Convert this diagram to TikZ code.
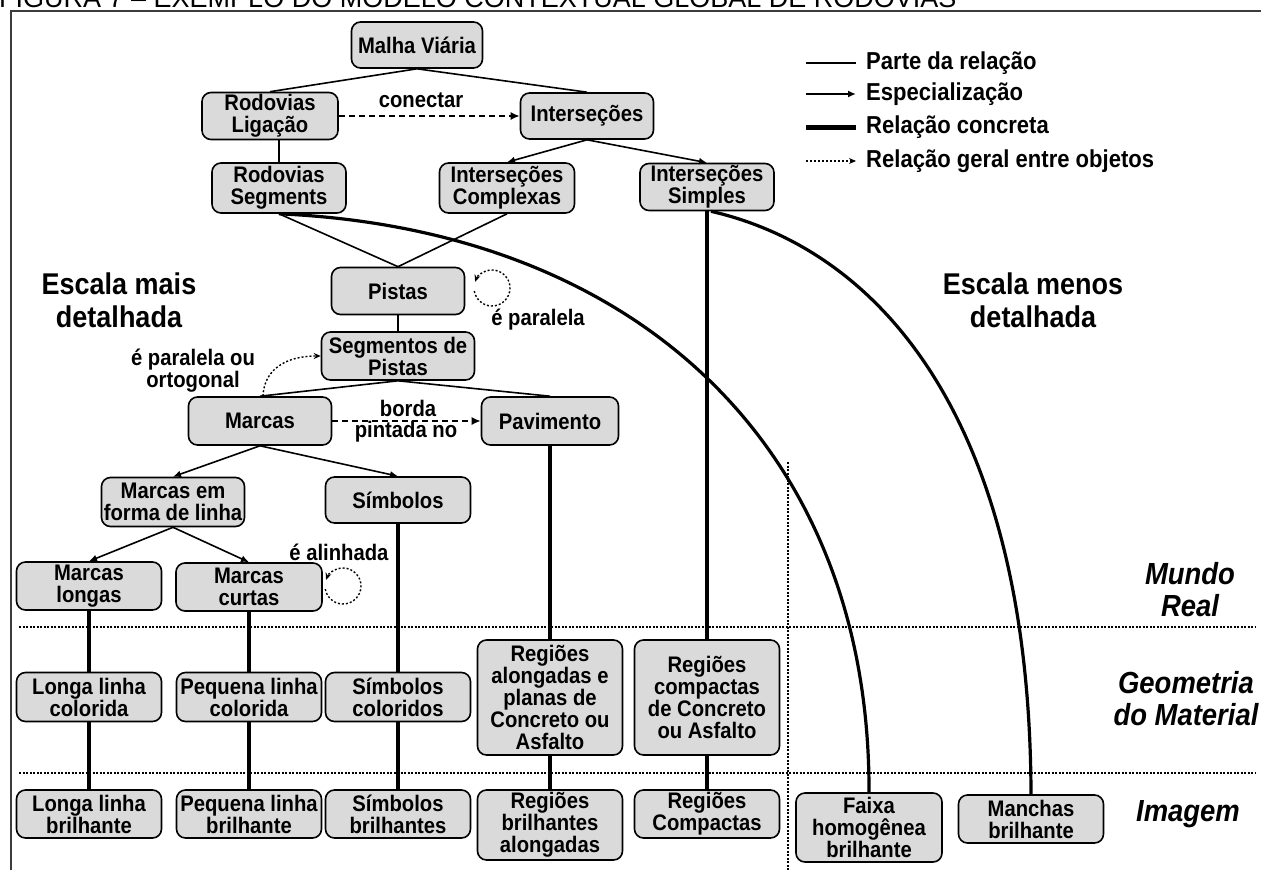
\documentclass[tikz,border=0pt]{standalone}
\usepackage{fontspec}
\setmainfont{Liberation Sans}
\newfontfamily\narrowsans{Liberation Sans}[FakeStretch=0.9]
\usetikzlibrary{arrows.meta}
\definecolor{boxfill}{RGB}{218,218,218}
\definecolor{framegray}{RGB}{60,60,60}
\newcommand\nodefnt{\narrowsans\bfseries\fontsize{22.5}{22}\selectfont}
\newcommand\keyfnt{\narrowsans\bfseries\fontsize{24.5}{24}\selectfont}
\newcommand\bigfnt{\narrowsans\bfseries\fontsize{30}{33}\selectfont}
\newcommand\levelfnt{\narrowsans\bfseries\itshape\fontsize{30.5}{32}\selectfont}

\begin{document}
\begin{tikzpicture}[x=1pt,y=-1pt,
  box/.style={draw=black, line width=1.6pt, rounded corners=9pt, fill=boxfill,
    align=center, inner sep=0pt, font=\nodefnt},
  lbl/.style={inner sep=0pt, align=center, font=\nodefnt},
  part/.style={line width=1.6pt},
  spec/.style={line width=1.6pt, -{Latex[length=8pt,width=7pt]}},
  concrete/.style={line width=4.5pt},
  curve/.style={line width=3.2pt},
  general/.style={line width=1.4pt, dash pattern=on 2pt off 2pt,
    -{Stealth[length=7pt,width=6pt]}},
  link/.style={line width=1.6pt, dash pattern=on 6pt off 4pt,
    -{Latex[length=9pt,width=8pt]}},
  sep/.style={line width=1.3pt, dash pattern=on 2pt off 1.5pt}]

\useasboundingbox (0,0) rectangle (1261,870);
\fill[white] (0,0) rectangle (1261,870);

% caption (its upper half lies above the page) and frame
\node[anchor=base west, inner sep=0pt, font=\fontsize{27}{27}\selectfont] (title) at (-1,7)
  {FIGURA 7 – EXEMPLO DO MODELO CONTEXTUAL GLOBAL DE RODOVIAS};
\draw[line width=2pt, framegray] (11,870) -- (11,11) -- (1261,11);

% level separators
\draw[sep] (19,627) -- (1256,627);
\draw[sep] (19,773) -- (1256,773);
\draw[sep] (788,462) -- (788,870);

% concepts
\node[box, minimum width=131, minimum height=46] (mv) at (417,45) {Malha Viária};
\node[box, minimum width=136, minimum height=47] (lig) at (270,116) {Rodovias\\Ligação};
\node[box, minimum width=133, minimum height=46] (int) at (587,116) {Interseções};
\node[box, minimum width=134, minimum height=50] (seg) at (279,188) {Rodovias\\Segments};
\node[box, minimum width=135, minimum height=50] (comp) at (507,188) {Interseções\\Complexas};
\node[box, minimum width=134, minimum height=47] (simp) at (707,187) {Interseções\\Simples};
\node[box, minimum width=133, minimum height=47] (pis) at (398,291) {Pistas};
\node[box, minimum width=153, minimum height=48] (segp) at (398,356) {Segmentos de\\Pistas};
\node[box, minimum width=143, minimum height=48] (mar) at (260,421) {Marcas};
\node[box, minimum width=137, minimum height=48] (pav) at (550,421) {Pavimento};
\node[box, minimum width=143, minimum height=49] (mfl) at (173,502) {Marcas em\\forma de linha};
\node[box, minimum width=145, minimum height=46] (sim) at (398,500) {Símbolos};
\node[box, minimum width=145, minimum height=48] (mlo) at (89,586) {Marcas\\longas};
\node[box, minimum width=146, minimum height=48] (mcu) at (249,587) {Marcas\\curtas};

\node[box, minimum width=145, minimum height=49] (llc) at (89,697) {Longa linha\\colorida};
\node[box, minimum width=145, minimum height=49] (plc) at (249,697) {Pequena linha\\colorida};
\node[box, minimum width=145, minimum height=49] (sco) at (398,697) {Símbolos\\coloridos};
\node[box, minimum width=145, minimum height=115] (ral) at (550,697.5)
  {Regiões\\alongadas e\\planas de\\Concreto ou\\Asfalto};
\node[box, minimum width=145, minimum height=115] (rco) at (707,697.5)
  {Regiões\\compactas\\de Concreto\\ou Asfalto};

\node[box, minimum width=145, minimum height=48] (llb) at (89,814) {Longa linha\\brilhante};
\node[box, minimum width=145, minimum height=48] (plb) at (249,814) {Pequena linha\\brilhante};
\node[box, minimum width=145, minimum height=48] (sbr) at (398,814) {Símbolos\\brilhantes};
\node[box, minimum width=145, minimum height=70] (rba) at (550,825) {Regiões\\brilhantes\\alongadas};
\node[box, minimum width=145, minimum height=48] (rcb) at (707,814) {Regiões\\Compactas};
\node[box, minimum width=146, minimum height=69] (fhb) at (869,827.5) {Faixa\\homogênea\\brilhante};
\node[box, minimum width=145, minimum height=48] (mbr) at (1031,819) {Manchas\\brilhante};

% part-of relations
\draw[part] (mv.south) -- (lig.north);
\draw[part] (mv.south) -- (int.north);
\draw[part] (lig.south -| seg.north) -- (seg.north);
\draw[part] (seg.south) -- (pis.north);
\draw[part] (comp.south) -- (pis.north);
\draw[part] (pis.south) -- (segp.north);
\draw[part] (segp.south) -- (mar.north);
\draw[part] (segp.south) -- (pav.north);

% specialisations
\draw[spec] (int.south) -- (comp.north);
\draw[spec] (int.south) -- (simp.north);
\draw[spec] (mar.south) -- (mfl.north);
\draw[spec] (mar.south) -- (sim.north);
\draw[spec] (mfl.south) -- (mlo.north);
\draw[spec] (mfl.south) -- (mcu.north);

% general relations between objects
\draw[link] (lig.east) -- (int.west);
\node[lbl] (conectar) at (421,100) {conectar};
\draw[link] (mar.east) -- (pav.west);
\node[lbl] (borda) at (408,408) {borda};
\node[lbl] (pintada) at (406,432) {pintada no};

\coordinate (pisloop) at (492,288);
\draw[general] ([shift={(170:18)}]pisloop) arc[start angle=170, end angle=-160, radius=18];
\node[lbl] (paralela) at (538,320) {é paralela};

\coordinate (mculoop) at (343,586);
\draw[general] ([shift={(170:18)}]mculoop) arc[start angle=170, end angle=-160, radius=18];
\node[lbl] (alinhada) at (339,552) {é alinhada};

\draw[general] ([xshift=3]mar.north) .. controls (264,370) and (285,356) .. (segp.west);
\node[lbl] (ortog) at (193,371) {é paralela ou\\ortogonal};

% concrete relations
\draw[concrete] (mlo.south) -- (llc.north) (llc.south) -- (llb.north);
\draw[concrete] (mcu.south) -- (plc.north) (plc.south) -- (plb.north);
\draw[concrete] (sim.south) -- (sco.north) (sco.south) -- (sbr.north);
\draw[concrete] (pav.south) -- (ral.north) (ral.south) -- (rba.north);
\draw[line width=3.5pt] (simp.south) -- (rco.north) (rco.south) -- (rcb.north);
\draw[curve] (seg.south) .. controls (640,230) and (870,450) .. (fhb.north);
\draw[curve] ([xshift=4]simp.south) .. controls (880,250) and (1030,420) .. (mbr.north);

% scale and level captions
\node[lbl, font=\bigfnt] (mais) at (119,300) {Escala mais\\detalhada};
\node[lbl, font=\bigfnt] (menos) at (1033,300) {Escala menos\\detalhada};
\node[lbl, font=\levelfnt] (mundo) at (1190,590) {Mundo\\Real};
\node[lbl, font=\levelfnt] (geom) at (1186,699) {Geometria\\do Material};
\node[lbl, font=\levelfnt] (imagem) at (1188,814) {Imagem};

% legend
\coordinate (l1a) at (806,63);  \coordinate (l1b) at (856,63);
\coordinate (l2a) at (806,94);  \coordinate (l2b) at (856,94);
\coordinate (l3a) at (806,127); \coordinate (l3b) at (856,127);
\coordinate (l4a) at (806,161); \coordinate (l4b) at (856,161);
\draw[part] (l1a) -- (l1b);
\draw[spec] (l2a) -- (l2b);
\draw[line width=5pt] (l3a) -- (l3b);
\draw[general] (l4a) -- (l4b);
\node[lbl, font=\keyfnt, anchor=west] (t1) at (866,63) {Parte da relação};
\node[lbl, font=\keyfnt, anchor=west] (t2) at (866,94) {Especialização};
\node[lbl, font=\keyfnt, anchor=west] (t3) at (866,127) {Relação concreta};
\node[lbl, font=\keyfnt, anchor=west] (t4) at (866,161) {Relação geral entre objetos};
\end{tikzpicture}
\end{document}
